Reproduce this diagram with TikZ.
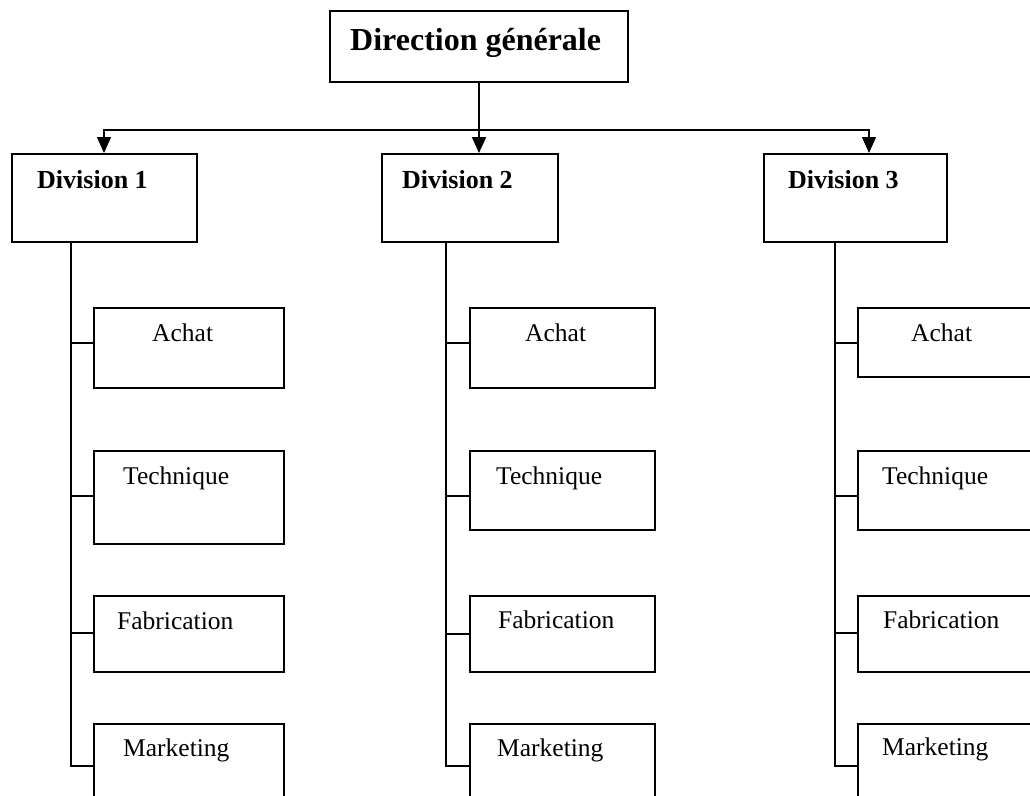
\documentclass[tikz,border=0pt]{standalone}
\usepackage{fontspec}
\setmainfont{Liberation Serif}
\usetikzlibrary{arrows.meta}
\tikzset{
  box/.style={draw=black, line width=2pt, fill=white, rectangle, inner sep=0pt, anchor=north west},
  lbl/.style={anchor=base west, inner sep=0pt, font=\fontsize{25.5}{30}\selectfont},
  divlbl/.style={anchor=base west, inner sep=0pt, font=\fontsize{26}{31}\selectfont\bfseries},
  conn/.style={line width=2pt},
  thin/.style={line width=1.3pt},
  tip/.style={-{Triangle[width=14pt,length=16pt]}}
}
\begin{document}
\begin{tikzpicture}[x=1pt,y=-1pt]
\clip (0,0) rectangle (1030,795);
\fill[white] (0,0) rectangle (1030,795);
% top box
\node[box, minimum width=298pt, minimum height=71pt] (dg) at (329,10) {};
\node[anchor=base west, inner sep=0pt, font=\fontsize{32}{38}\selectfont\bfseries] (dgt) at (350,50) {Direction générale};
% divisions
\node[box, minimum width=185pt, minimum height=88pt] (d1) at (11,153) {};
\node[box, minimum width=176pt, minimum height=88pt] (d2) at (381,153) {};
\node[box, minimum width=183pt, minimum height=88pt] (d3) at (763,153) {};
\node[divlbl] (d1t) at (37,188) {Division 1};
\node[divlbl] (d2t) at (402,188) {Division 2};
\node[divlbl] (d3t) at (788,188) {Division 3};
% connectors from top
\coordinate (j) at (478,130);
\draw[conn, tip] (dg.south) -- (dg.south |- d2.north);
\draw[thin, tip] (j) -| ([xshift=-0.5pt]d1.north);
\draw[thin, tip] (j) -| ([xshift=13.5pt]d3.north);
% column 1 boxes
\node[box, minimum width=190pt, minimum height=80pt] (a1) at (93,307) {};
\node[box, minimum width=190pt, minimum height=93pt] (t1) at (93,450) {};
\node[box, minimum width=190pt, minimum height=76pt] (f1) at (93,595) {};
\node[box, minimum width=190pt, minimum height=84pt] (m1) at (93,723) {};
% column 2 boxes
\node[box, minimum width=185pt, minimum height=80pt] (a2) at (469,307) {};
\node[box, minimum width=185pt, minimum height=79pt] (t2) at (469,450) {};
\node[box, minimum width=185pt, minimum height=76pt] (f2) at (469,595) {};
\node[box, minimum width=185pt, minimum height=84pt] (m2) at (469,723) {};
% column 3 boxes
\node[box, minimum width=190pt, minimum height=69pt] (a3) at (857,307) {};
\node[box, minimum width=190pt, minimum height=79pt] (t3) at (857,450) {};
\node[box, minimum width=190pt, minimum height=76pt] (f3) at (857,595) {};
\node[box, minimum width=190pt, minimum height=84pt] (m3) at (857,723) {};
% labels
\node[lbl] (a1t) at (152,341) {Achat};
\node[lbl] (t1t) at (123,484) {Technique};
\node[lbl] (f1t) at (117,629) {Fabrication};
\node[lbl] (m1t) at (123,756) {Marketing};
\node[lbl] (a2t) at (525,341) {Achat};
\node[lbl] (t2t) at (496,484) {Technique};
\node[lbl] (f2t) at (498,628) {Fabrication};
\node[lbl] (m2t) at (497,756) {Marketing};
\node[lbl] (a3t) at (911,341) {Achat};
\node[lbl] (t3t) at (882,484) {Technique};
\node[lbl] (f3t) at (883,628) {Fabrication};
\node[lbl] (m3t) at (882,755) {Marketing};
% branch lines column 1
\coordinate (v1) at (71,241);
\draw[conn] (v1) |- ([yshift=5pt]a1.west);
\draw[conn] (v1) |- ([yshift=1.5pt]t1.west);
\draw[conn] (v1) |- ([yshift=1pt]f1.west);
\draw[conn] (v1) |- (m1.west);
% column 2
\coordinate (v2) at (446,241);
\draw[conn] (v2) |- ([yshift=5pt]a2.west);
\draw[conn] (v2) |- ([yshift=-5.5pt]t2.west);
\draw[conn] (v2) |- (f2.west);
\draw[conn] (v2) |- (m2.west);
% column 3
\coordinate (v3) at (835,241);
\draw[conn] (v3) |- ([yshift=-0.5pt]a3.west);
\draw[conn] (v3) |- ([yshift=-5.5pt]t3.west);
\draw[conn] (v3) |- ([yshift=1pt]f3.west);
\draw[conn] (v3) |- (m3.west);
\end{tikzpicture}
\end{document}
